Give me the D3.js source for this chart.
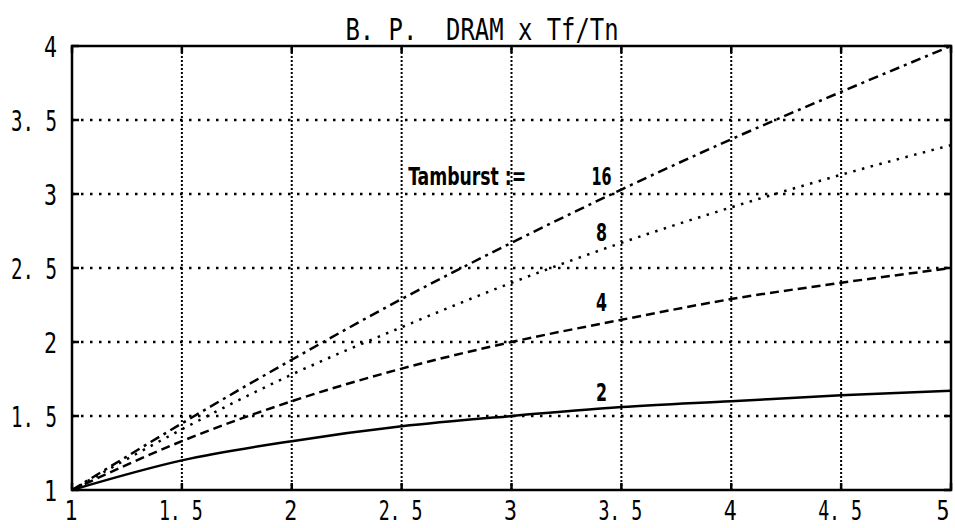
<!DOCTYPE html>
<html>
<head>
<meta charset="utf-8">
<script src="https://cdn.jsdelivr.net/npm/d3@7"></script>
<style>
  html, body { margin: 0; padding: 0; background: #fff; }
  svg { display: block; }
  text { white-space: pre; }
</style>
</head>
<body>
<script>
// Tf/Tn on the x axis, B.P. gain on the y axis
const xValues = [1, 1.5, 2, 2.5, 3, 3.5, 4, 4.5, 5];
const burst2 = [1, 1.2, 1.33, 1.43, 1.5, 1.56, 1.6, 1.64, 1.67];
const burst4 = [1, 1.33, 1.6, 1.82, 2.0, 2.15, 2.29, 2.4, 2.5];
const burst8 = [1, 1.41, 1.78, 2.1, 2.4, 2.67, 2.91, 3.13, 3.33];
const burst16 = [1, 1.45, 1.88, 2.29, 2.67, 3.03, 3.37, 3.69, 4.0];

const xTicks = [1, 1.5, 2, 2.5, 3, 3.5, 4, 4.5, 5];
const yTicks = [1, 1.5, 2, 2.5, 3, 3.5, 4];
const xTickLabels = ["1", "1. 5", "2", "2. 5", "3", "3. 5", "4", "4. 5", "5"];
const yTickLabels = ["1", "1. 5", "2", "2. 5", "3", "3. 5", "4"];

const title = "B. P.  DRAM x Tf/Tn";

const series = [
    { name: "2", values: burst2, dash: null },
    { name: "4", values: burst4, dash: "9,5" },
    { name: "8", values: burst8, dash: "2.5,6.5" },
    { name: "16", values: burst16, dash: "10,5,3,5" }
];

const width = 955;
const height = 528;
const margin = { top: 46, right: 4, bottom: 38, left: 72 };

const x = d3.scaleLinear().domain([1, 5]).range([margin.left, width - margin.right]);
const y = d3.scaleLinear().domain([1, 4]).range([height - margin.bottom, margin.top]);

const svg = d3.select("body").append("svg")
    .attr("width", width)
    .attr("height", height)
    .attr("viewBox", [0, 0, width, height]);

const monoFont = "'DejaVu Sans Mono', 'Liberation Mono', monospace";

// grid
svg.append("g")
    .attr("stroke", "#000")
    .attr("stroke-width", 2)
    .attr("stroke-dasharray", "2,2")
    .selectAll()
    .data(xTicks.slice(1, -1))
    .join("line")
    .attr("x1", d => x(d))
    .attr("x2", d => x(d))
    .attr("y1", y(1))
    .attr("y2", y(4));

svg.append("g")
    .attr("stroke", "#000")
    .attr("stroke-width", 2.5)
    .attr("stroke-dasharray", "2.5,6.5")
    .selectAll()
    .data(yTicks.slice(1, -1))
    .join("line")
    .attr("x1", x(1))
    .attr("x2", x(5))
    .attr("y1", d => y(d))
    .attr("y2", d => y(d));

// short solid ticks on the frame
const ticks = svg.append("g").attr("stroke", "#000").attr("stroke-width", 2.5);
ticks.selectAll(".xb").data(xTicks).join("line")
    .attr("x1", d => x(d)).attr("x2", d => x(d))
    .attr("y1", y(1)).attr("y2", y(1) - 7);
ticks.selectAll(".xt").data(xTicks).join("line")
    .attr("x1", d => x(d)).attr("x2", d => x(d))
    .attr("y1", y(4)).attr("y2", y(4) + 7);
ticks.selectAll(".yl").data(yTicks).join("line")
    .attr("x1", x(1)).attr("x2", x(1) + 7)
    .attr("y1", d => y(d)).attr("y2", d => y(d));
ticks.selectAll(".yr").data(yTicks).join("line")
    .attr("x1", x(5)).attr("x2", x(5) - 7)
    .attr("y1", d => y(d)).attr("y2", d => y(d));

// frame
svg.append("rect")
    .attr("x", x(1))
    .attr("y", y(4))
    .attr("width", x(5) - x(1))
    .attr("height", y(1) - y(4))
    .attr("fill", "none")
    .attr("stroke", "#000")
    .attr("stroke-width", 2.5);

// curves
const line = d3.line()
    .x((d, i) => x(xValues[i]))
    .y(d => y(d))
    .curve(d3.curveMonotoneX);

svg.append("g")
    .attr("fill", "none")
    .attr("stroke", "#000")
    .attr("stroke-width", 2.5)
    .selectAll()
    .data(series)
    .join("path")
    .attr("stroke-dasharray", d => d.dash)
    .attr("d", d => line(d.values));

// tick labels
svg.append("g")
    .attr("font-family", monoFont)
    .attr("font-size", 29)
    .attr("fill", "#000")
    .attr("text-anchor", "end")
    .selectAll()
    .data(yTicks)
    .join("text")
    .attr("x", 57)
    .attr("y", d => y(d) + 10.5)
    .attr("textLength", (d, i) => yTickLabels[i].length > 1 ? 46 : 13)
    .attr("lengthAdjust", "spacingAndGlyphs")
    .text((d, i) => yTickLabels[i]);

svg.append("g")
    .attr("font-family", monoFont)
    .attr("font-size", 26)
    .attr("fill", "#000")
    .attr("text-anchor", "middle")
    .selectAll()
    .data(xTicks)
    .join("text")
    .attr("x", (d, i) => i === xTicks.length - 1 ? x(d) - 8 : x(d) - 1)
    .attr("y", 520)
    .attr("textLength", (d, i) => xTickLabels[i].length > 1 ? 44 : 13)
    .attr("lengthAdjust", "spacingAndGlyphs")
    .text((d, i) => xTickLabels[i]);

// title
svg.append("text")
    .attr("x", 482)
    .attr("y", 40)
    .attr("text-anchor", "middle")
    .attr("font-family", monoFont)
    .attr("font-size", 30)
    .attr("textLength", 273)
    .attr("lengthAdjust", "spacingAndGlyphs")
    .text(title);

// annotations
const labelFont = "'DejaVu Sans Condensed', 'Liberation Sans Narrow', 'Liberation Sans', sans-serif";
const labelX = 3.41;
const labelY = [1.6, 2.21, 2.68, 3.06];

svg.append("text")
    .attr("x", x(2.53))
    .attr("y", y(3.06))
    .attr("font-family", labelFont)
    .attr("font-weight", "bold")
    .attr("font-size", 24)
    .attr("textLength", 118)
    .attr("lengthAdjust", "spacingAndGlyphs")
    .text("Tamburst :=");

svg.append("g")
    .attr("font-family", labelFont)
    .attr("font-weight", "bold")
    .attr("font-size", 24)
    .attr("text-anchor", "middle")
    .selectAll()
    .data(series)
    .join("text")
    .attr("x", x(labelX))
    .attr("y", (d, i) => y(labelY[i]))
    .attr("textLength", d => d.name.length > 1 ? 20 : 11)
    .attr("lengthAdjust", "spacingAndGlyphs")
    .text(d => d.name);
</script>
</body>
</html>
